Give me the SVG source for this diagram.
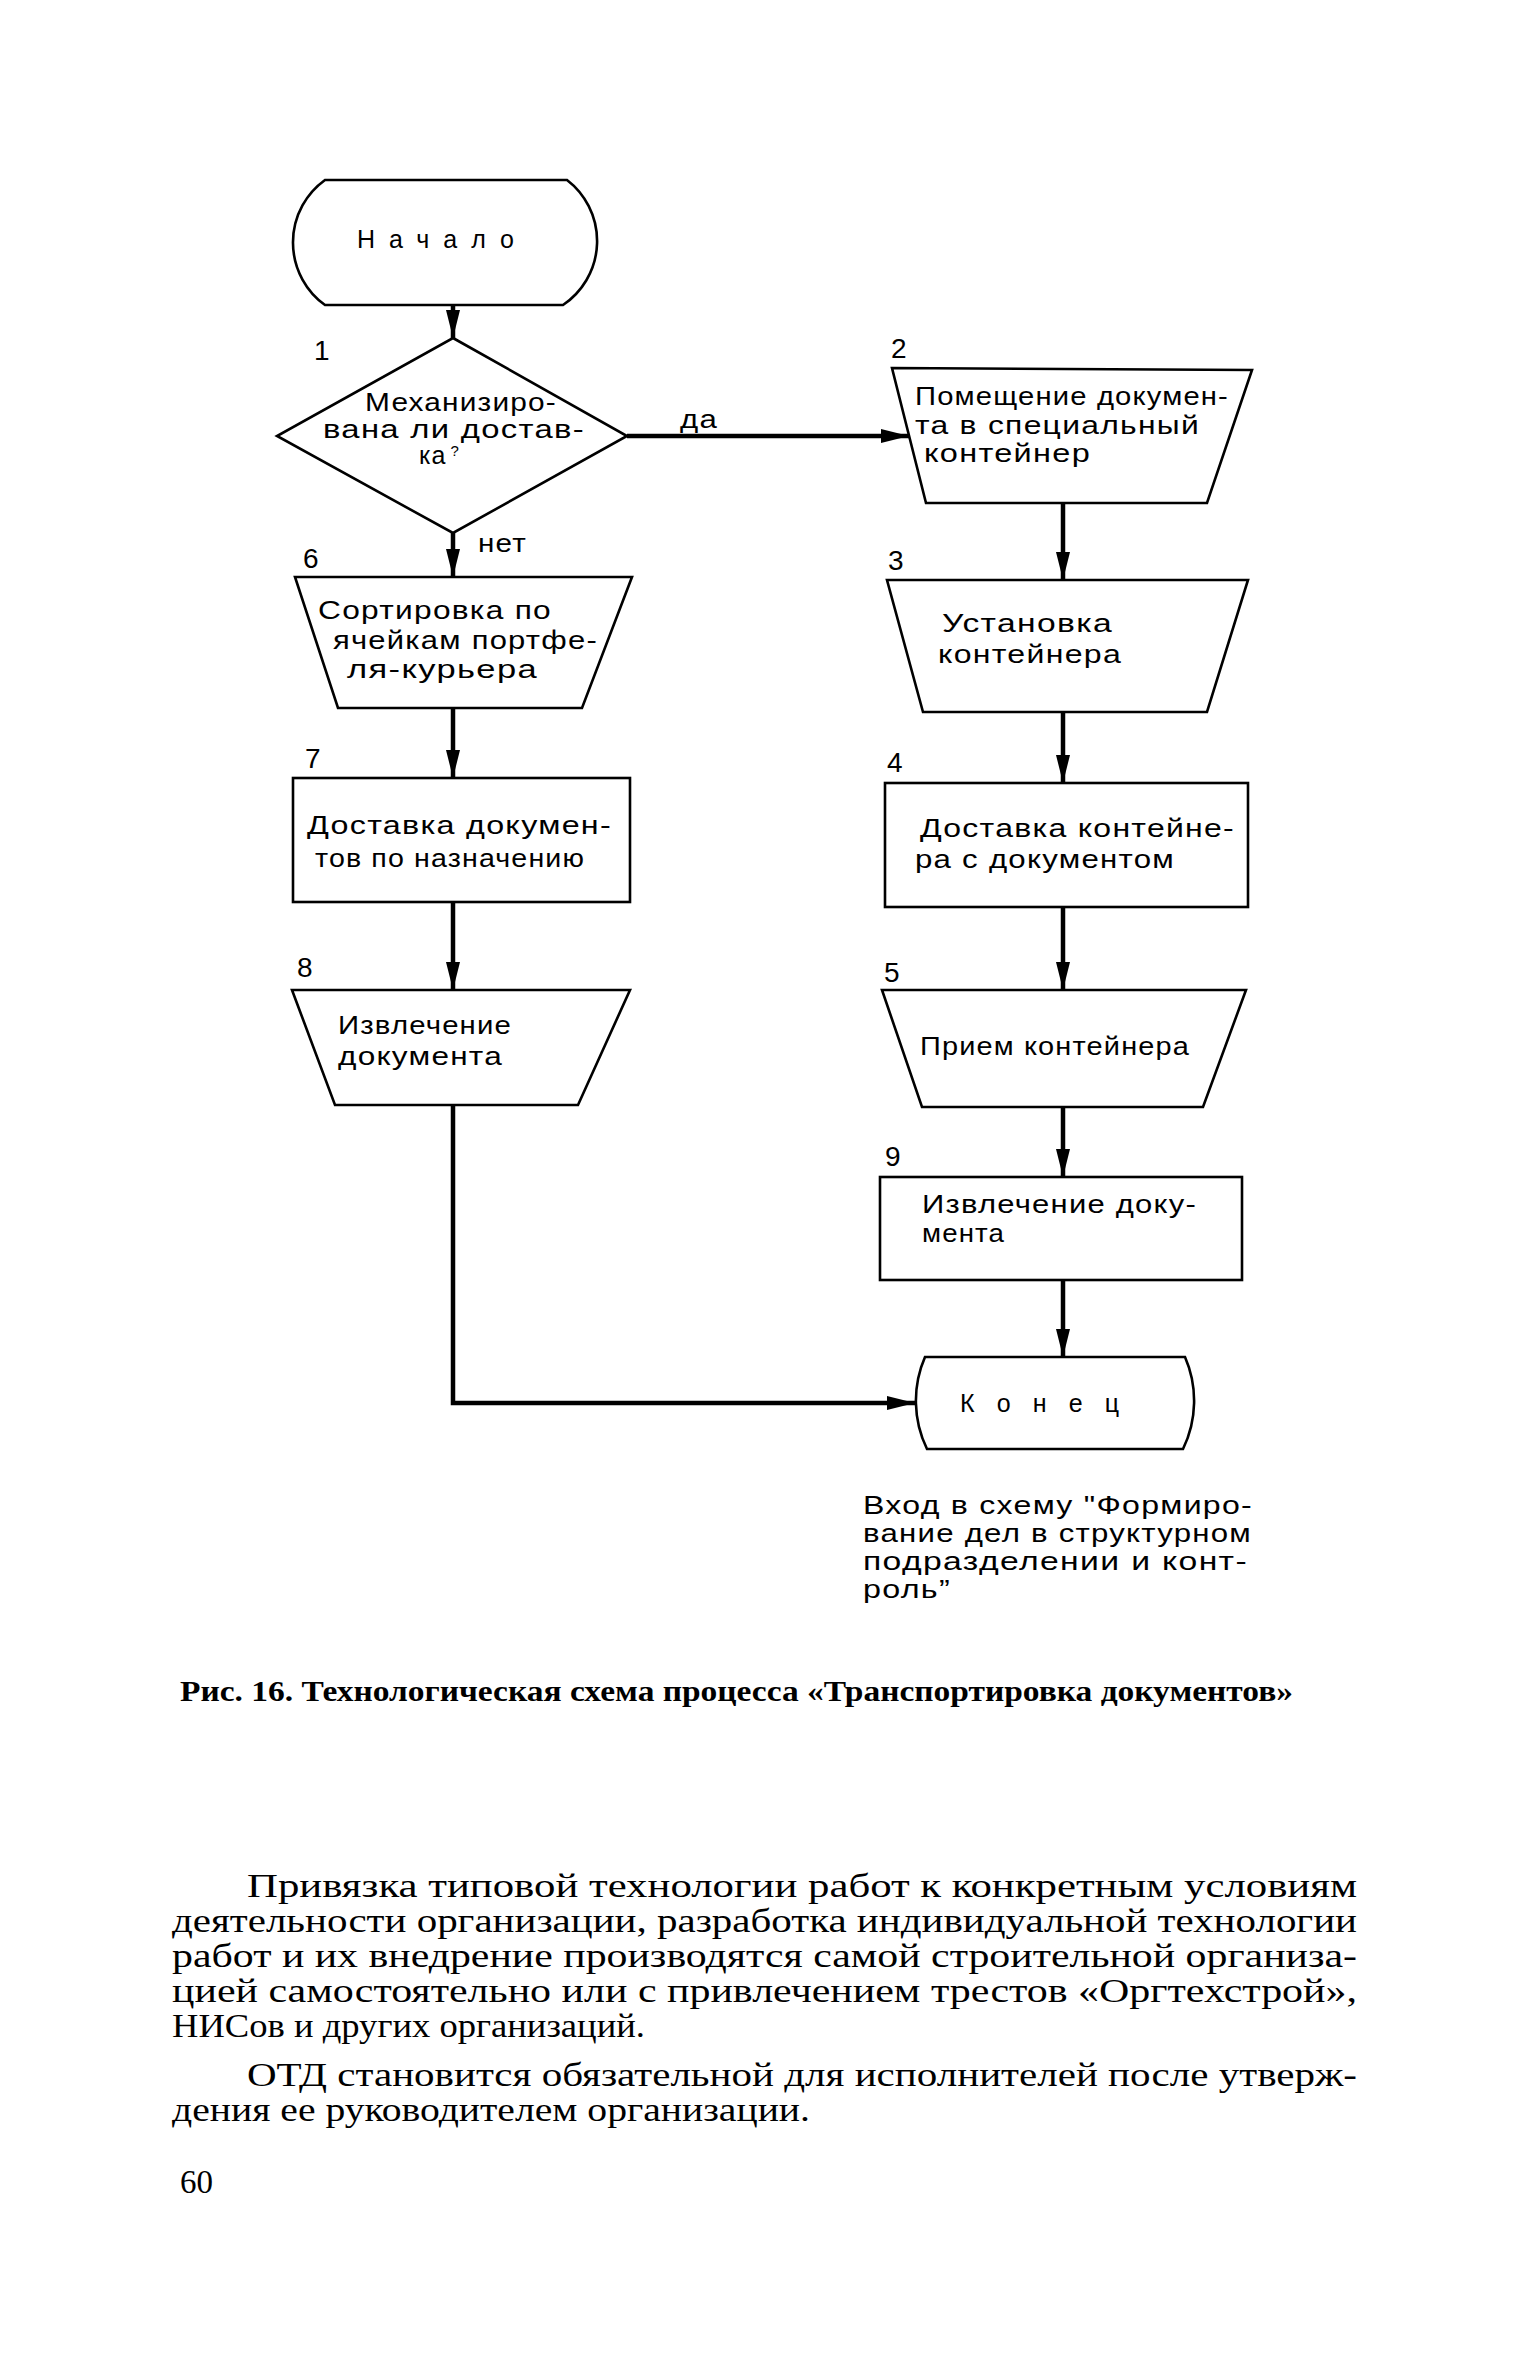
<svg xmlns="http://www.w3.org/2000/svg" width="1535" height="2363" viewBox="0 0 1535 2363">
<style>
.shape{fill:none;stroke:#000;stroke-width:2.6;stroke-linejoin:miter}
.conn{fill:none;stroke:#000;stroke-width:4.5}
.t{font-family:"Liberation Sans","DejaVu Sans",sans-serif;font-size:25px;letter-spacing:1px;fill:#000}
.num{font-family:"Liberation Sans","DejaVu Sans",sans-serif;font-size:28px;fill:#000}
.para{font-family:"Liberation Serif","DejaVu Serif",serif;font-size:33px;fill:#000}
.cap{font-family:"Liberation Serif","DejaVu Serif",serif;font-size:30px;font-weight:bold;fill:#000}
</style>
<defs>
<marker id="ah" markerUnits="userSpaceOnUse" markerWidth="28" markerHeight="14" refX="28" refY="7" orient="auto">
<path d="M0,0 L28,7 L0,14 z" fill="#000"/>
</marker>
</defs>
<rect width="1535" height="2363" fill="#fff"/>

<g id="connectors">
<line class="conn" x1="453" y1="305" x2="453" y2="338" marker-end="url(#ah)"/>
<line class="conn" x1="627" y1="436" x2="909" y2="436" marker-end="url(#ah)"/>
<line class="conn" x1="453" y1="533" x2="453" y2="577" marker-end="url(#ah)"/>
<line class="conn" x1="453" y1="708" x2="453" y2="778" marker-end="url(#ah)"/>
<line class="conn" x1="453" y1="902" x2="453" y2="990" marker-end="url(#ah)"/>
<polyline class="conn" points="453,1105 453,1403 915,1403" marker-end="url(#ah)"/>
<line class="conn" x1="1063" y1="503" x2="1063" y2="580" marker-end="url(#ah)"/>
<line class="conn" x1="1063" y1="712" x2="1063" y2="783" marker-end="url(#ah)"/>
<line class="conn" x1="1063" y1="907" x2="1063" y2="990" marker-end="url(#ah)"/>
<line class="conn" x1="1063" y1="1107" x2="1063" y2="1177" marker-end="url(#ah)"/>
<line class="conn" x1="1063" y1="1280" x2="1063" y2="1357" marker-end="url(#ah)"/>
<text class="t" x="680" y="428" font-size="26" textLength="38" lengthAdjust="spacingAndGlyphs">да</text>
<text class="t" x="478" y="552" font-size="26" textLength="49" lengthAdjust="spacingAndGlyphs">нет</text>
</g>

<g id="start">
<path class="shape" d="M325,180 L567,180 A77,77 0 0 1 563,305 L325,305 A77,77 0 0 1 325,180 Z"/>
<text class="t" x="357" y="248" font-size="29" textLength="158" lengthAdjust="spacing">Начало</text>
</g>

<g id="n1">
<text class="num" x="314" y="360">1</text>
<polygon class="shape" points="453,338 627,436 453,533 277,436"/>
<text class="t" x="365" y="411" font-size="24" textLength="192" lengthAdjust="spacingAndGlyphs">Механизиро-</text>
<text class="t" x="323" y="438" font-size="24" textLength="262" lengthAdjust="spacingAndGlyphs">вана ли достав-</text>
<text class="t" x="419" y="464" font-size="24">ка<tspan font-size="15" dy="-8" dx="4">?</tspan></text>
</g>

<g id="n2">
<text class="num" x="891" y="358">2</text>
<polygon class="shape" points="892,368 1252,370 1207,503 926,503"/>
<text class="t" x="915" y="405" textLength="314" lengthAdjust="spacingAndGlyphs">Помещение докумен-</text>
<text class="t" x="915" y="434" textLength="285" lengthAdjust="spacingAndGlyphs">та в специальный</text>
<text class="t" x="924" y="462" textLength="167" lengthAdjust="spacingAndGlyphs">контейнер</text>
</g>

<g id="n3">
<text class="num" x="888" y="570">3</text>
<polygon class="shape" points="887,580 1248,580 1207,712 923,712"/>
<text class="t" x="942" y="632" textLength="171" lengthAdjust="spacingAndGlyphs">Установка</text>
<text class="t" x="938" y="663" textLength="184" lengthAdjust="spacingAndGlyphs">контейнера</text>
</g>

<g id="n4">
<text class="num" x="887" y="772">4</text>
<rect class="shape" x="885" y="783" width="363" height="124"/>
<text class="t" x="920" y="837" textLength="315" lengthAdjust="spacingAndGlyphs">Доставка контейне-</text>
<text class="t" x="915" y="868" textLength="260" lengthAdjust="spacingAndGlyphs">ра с документом</text>
</g>

<g id="n5">
<text class="num" x="884" y="982">5</text>
<polygon class="shape" points="882,990 1246,990 1203,1107 922,1107"/>
<text class="t" x="920" y="1055" textLength="270" lengthAdjust="spacingAndGlyphs">Прием контейнера</text>
</g>

<g id="n9">
<text class="num" x="885" y="1166">9</text>
<rect class="shape" x="880" y="1177" width="362" height="103"/>
<text class="t" x="922" y="1213" textLength="275" lengthAdjust="spacingAndGlyphs">Извлечение доку-</text>
<text class="t" x="922" y="1242" textLength="83" lengthAdjust="spacingAndGlyphs">мента</text>
</g>

<g id="n6">
<text class="num" x="303" y="568">6</text>
<polygon class="shape" points="295,577 632,577 582,708 338,708"/>
<text class="t" x="318" y="619" textLength="234" lengthAdjust="spacingAndGlyphs">Сортировка по</text>
<text class="t" x="333" y="649" textLength="265" lengthAdjust="spacingAndGlyphs">ячейкам портфе-</text>
<text class="t" x="347" y="678" textLength="191" lengthAdjust="spacingAndGlyphs">ля-курьера</text>
</g>

<g id="n7">
<text class="num" x="305" y="768">7</text>
<rect class="shape" x="293" y="778" width="337" height="124"/>
<text class="t" x="307" y="834" textLength="305" lengthAdjust="spacingAndGlyphs">Доставка докумен-</text>
<text class="t" x="315" y="867" textLength="270" lengthAdjust="spacingAndGlyphs">тов по назначению</text>
</g>

<g id="n8">
<text class="num" x="297" y="977">8</text>
<polygon class="shape" points="292,990 630,990 578,1105 335,1105"/>
<text class="t" x="338" y="1034" textLength="174" lengthAdjust="spacingAndGlyphs">Извлечение</text>
<text class="t" x="338" y="1065" textLength="165" lengthAdjust="spacingAndGlyphs">документа</text>
</g>

<g id="end">
<path class="shape" d="M925,1357 L1185,1357 A110,110 0 0 1 1183,1449 L927,1449 A110,110 0 0 1 925,1357 Z"/>
<text class="t" x="960" y="1412" font-size="29" textLength="160" lengthAdjust="spacing">Конец</text>
</g>

<g id="note">
<text class="t" x="863" y="1514" font-size="24" textLength="390" lengthAdjust="spacingAndGlyphs">Вход в схему "Формиро-</text>
<text class="t" x="863" y="1542" font-size="24" textLength="389" lengthAdjust="spacingAndGlyphs">вание дел в структурном</text>
<text class="t" x="863" y="1570" font-size="24" textLength="385" lengthAdjust="spacingAndGlyphs">подразделении и конт-</text>
<text class="t" x="863" y="1598" font-size="24" textLength="88" lengthAdjust="spacingAndGlyphs">роль”</text>
</g>

<g id="caption">
<text class="cap" x="180" y="1701" textLength="1113" lengthAdjust="spacingAndGlyphs">Рис. 16. Технологическая схема процесса «Транспортировка документов»</text>
</g>

<g id="body">
<text class="para" x="247" y="1897" textLength="1110" lengthAdjust="spacingAndGlyphs">Привязка типовой технологии работ к конкретным условиям</text>
<text class="para" x="172" y="1932" textLength="1185" lengthAdjust="spacingAndGlyphs">деятельности организации, разработка индивидуальной технологии</text>
<text class="para" x="172" y="1967" textLength="1185" lengthAdjust="spacingAndGlyphs">работ и их внедрение производятся самой строительной организа-</text>
<text class="para" x="172" y="2002" textLength="1185" lengthAdjust="spacingAndGlyphs">цией самостоятельно или с привлечением трестов «Оргтехстрой»,</text>
<text class="para" x="172" y="2037" textLength="473" lengthAdjust="spacingAndGlyphs">НИСов и других организаций.</text>
<text class="para" x="247" y="2086" textLength="1110" lengthAdjust="spacingAndGlyphs">ОТД становится обязательной для исполнителей после утверж-</text>
<text class="para" x="172" y="2121" textLength="638" lengthAdjust="spacingAndGlyphs">дения ее руководителем организации.</text>
<text class="para" x="180" y="2193" font-size="36">60</text>
</g>
</svg>
